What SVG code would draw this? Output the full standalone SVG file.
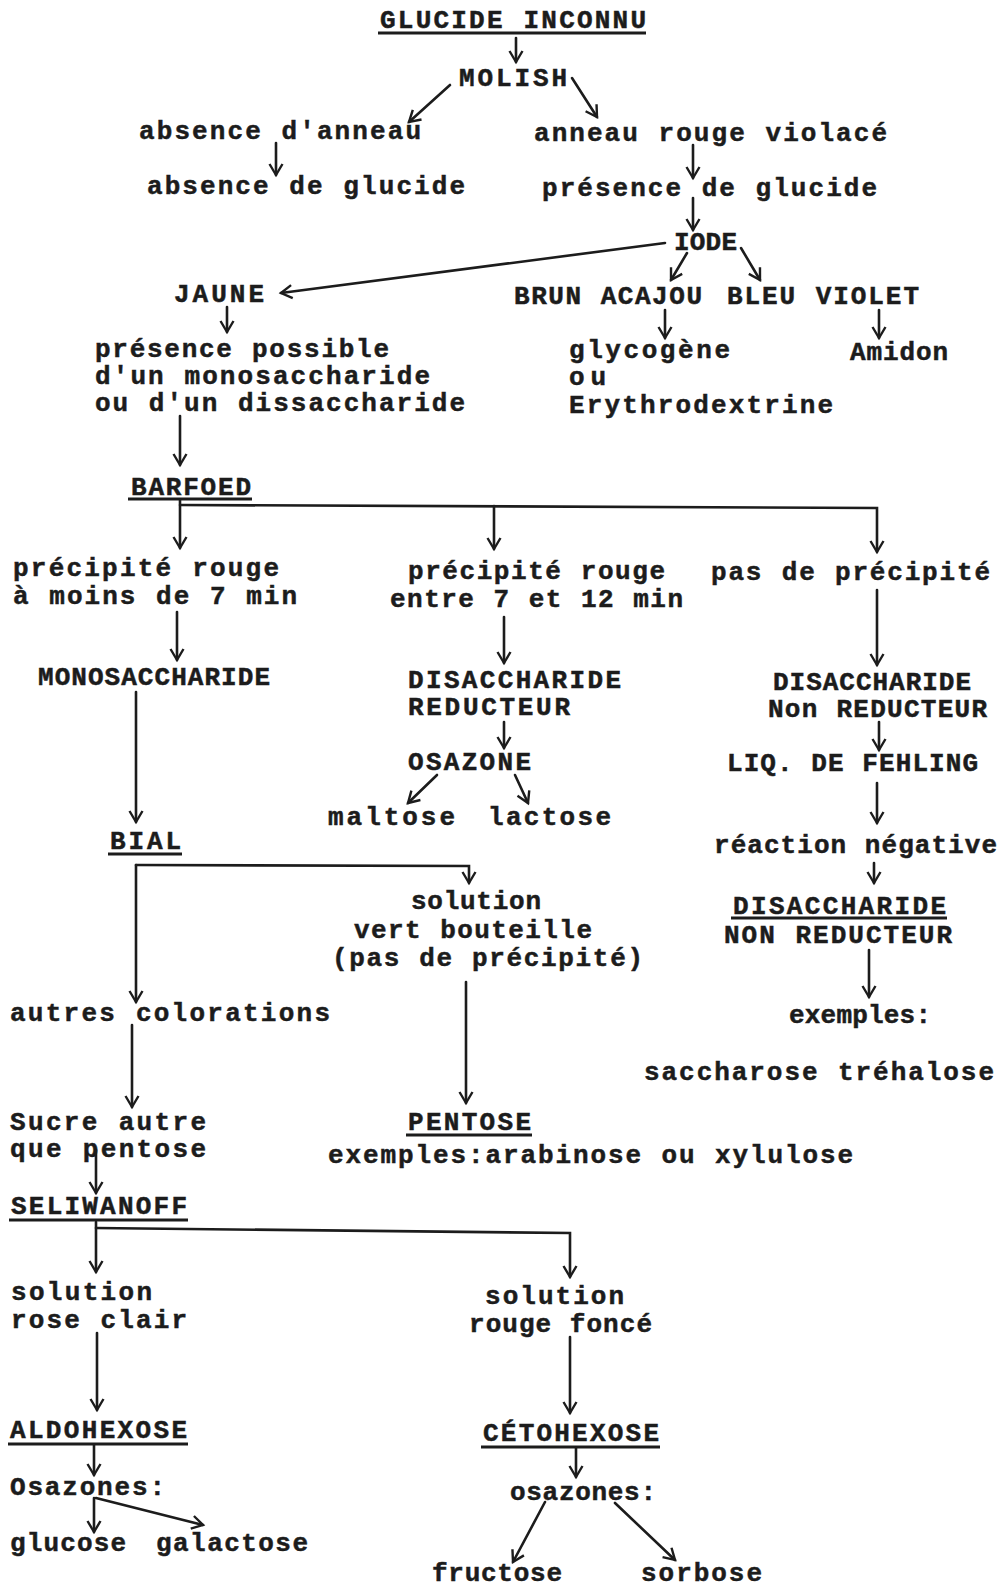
<svg xmlns="http://www.w3.org/2000/svg" width="1000" height="1587" viewBox="0 0 1000 1587">
<defs>
<style>
.t{font-family:"Liberation Mono","DejaVu Sans Mono",monospace;font-size:26px;font-weight:bold;fill:#1c1c1c;stroke:#1c1c1c;stroke-width:0.5;word-spacing:1px}
.c{fill:none;stroke:#1c1c1c;stroke-width:2.6;stroke-linecap:round}
.u{stroke:#1c1c1c;stroke-width:3}
</style>
<marker id="a" markerWidth="16" markerHeight="16" refX="13" refY="8" orient="auto" markerUnits="userSpaceOnUse" viewBox="0 0 16 16">
<path d="M2,1.5 L13,8 L2,14.5" fill="none" stroke="#1c1c1c" stroke-width="2.4"/>
</marker>
</defs>
<rect width="1000" height="1587" fill="#ffffff"/>

<g id="n-glucide"><text class="t" x="380" y="28" textLength="266" lengthAdjust="spacing">GLUCIDE INCONNU</text><line class="u" x1="378" y1="33" x2="646" y2="33"/></g>
<g id="n-molish"><text class="t" x="459" y="86" textLength="108" lengthAdjust="spacing">MOLISH</text></g>
<g id="n-absence-anneau"><text class="t" x="139" y="139" textLength="282" lengthAdjust="spacing">absence d'anneau</text></g>
<g id="n-anneau-rouge"><text class="t" x="534" y="141" textLength="353" lengthAdjust="spacing">anneau rouge violacé</text></g>
<g id="n-absence-glucide"><text class="t" x="147" y="194" textLength="318" lengthAdjust="spacing">absence de glucide</text></g>
<g id="n-presence-glucide"><text class="t" x="542" y="196" textLength="335" lengthAdjust="spacing">présence de glucide</text></g>
<g id="n-iode"><text class="t" x="674" y="250" textLength="63" lengthAdjust="spacing">IODE</text></g>
<g id="n-jaune"><text class="t" x="174" y="302" textLength="90" lengthAdjust="spacing">JAUNE</text></g>
<g id="n-brun-acajou"><text class="t" x="514" y="304" textLength="188" lengthAdjust="spacing">BRUN ACAJOU</text></g>
<g id="n-bleu-violet"><text class="t" x="727" y="304" textLength="192" lengthAdjust="spacing">BLEU VIOLET</text></g>
<g id="n-presence-possible">
<text class="t" x="95" y="357" textLength="294" lengthAdjust="spacing">présence possible</text>
<text class="t" x="95" y="384" textLength="335" lengthAdjust="spacing">d'un monosaccharide</text>
<text class="t" x="95" y="411" textLength="370" lengthAdjust="spacing">ou d'un dissaccharide</text>
</g>
<g id="n-glycogene">
<text class="t" x="569" y="358" textLength="161" lengthAdjust="spacing">glycogène</text>
<text class="t" x="569" y="385" textLength="37" lengthAdjust="spacing">ou</text>
<text class="t" x="569" y="413" textLength="264" lengthAdjust="spacing">Erythrodextrine</text>
</g>
<g id="n-amidon"><text class="t" x="850" y="360" textLength="98" lengthAdjust="spacing">Amidon</text></g>
<g id="n-barfoed"><text class="t" x="131" y="495" textLength="120" lengthAdjust="spacing">BARFOED</text><line class="u" x1="128" y1="499" x2="252" y2="499"/></g>
<g id="n-precipite-7">
<text class="t" x="13" y="576" textLength="266" lengthAdjust="spacing">précipité rouge</text>
<text class="t" x="13" y="604" textLength="284" lengthAdjust="spacing">à moins de 7 min</text>
</g>
<g id="n-precipite-12">
<text class="t" x="408" y="579" textLength="257" lengthAdjust="spacing">précipité rouge</text>
<text class="t" x="390" y="607" textLength="293" lengthAdjust="spacing">entre 7 et 12 min</text>
</g>
<g id="n-pas-precipite"><text class="t" x="711" y="580" textLength="279" lengthAdjust="spacing">pas de précipité</text></g>
<g id="n-monosaccharide"><text class="t" x="38" y="685" textLength="232" lengthAdjust="spacing">MONOSACCHARIDE</text></g>
<g id="n-disacch-red">
<text class="t" x="408" y="688" textLength="213" lengthAdjust="spacing">DISACCHARIDE</text>
<text class="t" x="408" y="715" textLength="162" lengthAdjust="spacing">REDUCTEUR</text>
</g>
<g id="n-disacch-nonred">
<text class="t" x="773" y="690" textLength="198" lengthAdjust="spacing">DISACCHARIDE</text>
<text class="t" x="768" y="717" textLength="219" lengthAdjust="spacing">Non REDUCTEUR</text>
</g>
<g id="n-osazone"><text class="t" x="408" y="770" textLength="123" lengthAdjust="spacing">OSAZONE</text></g>
<g id="n-maltose"><text class="t" x="328" y="825" textLength="127" lengthAdjust="spacing">maltose</text></g>
<g id="n-lactose"><text class="t" x="488" y="825" textLength="123" lengthAdjust="spacing">lactose</text></g>
<g id="n-fehling"><text class="t" x="727" y="771" textLength="251" lengthAdjust="spacing">LIQ. DE FEHLING</text></g>
<g id="n-bial"><text class="t" x="110" y="849" textLength="71" lengthAdjust="spacing">BIAL</text><line class="u" x1="108" y1="854" x2="182" y2="854"/></g>
<g id="n-reaction"><text class="t" x="714" y="853" textLength="283" lengthAdjust="spacing">réaction négative</text></g>
<g id="n-solution-vert">
<text class="t" x="411" y="909" textLength="130" lengthAdjust="spacing">solution</text>
<text class="t" x="354" y="938" textLength="238" lengthAdjust="spacing">vert bouteille</text>
<text class="t" x="332" y="966" textLength="311" lengthAdjust="spacing">(pas de précipité)</text>
</g>
<g id="n-disacch-nonred2">
<text class="t" x="733" y="914" textLength="213" lengthAdjust="spacing">DISACCHARIDE</text><line class="u" x1="731" y1="918" x2="947" y2="918"/>
<text class="t" x="724" y="943" textLength="228" lengthAdjust="spacing">NON REDUCTEUR</text>
</g>
<g id="n-autres"><text class="t" x="10" y="1021" textLength="320" lengthAdjust="spacing">autres colorations</text></g>
<g id="n-exemples"><text class="t" x="789" y="1023" textLength="142" lengthAdjust="spacing">exemples:</text></g>
<g id="n-saccharose"><text class="t" x="644" y="1080" textLength="350" lengthAdjust="spacing">saccharose tréhalose</text></g>
<g id="n-sucre">
<text class="t" x="10" y="1130" textLength="196" lengthAdjust="spacing">Sucre autre</text>
<text class="t" x="10" y="1157" textLength="196" lengthAdjust="spacing">que pentose</text>
</g>
<g id="n-pentose">
<text class="t" x="408" y="1130" textLength="123" lengthAdjust="spacing">PENTOSE</text><line class="u" x1="406" y1="1135" x2="532" y2="1135"/>
<text class="t" x="328" y="1163" textLength="525" lengthAdjust="spacing">exemples:arabinose ou xylulose</text>
</g>
<g id="n-seliwanoff"><text class="t" x="11" y="1214" textLength="176" lengthAdjust="spacing">SELIWANOFF</text><line class="u" x1="9" y1="1220" x2="188" y2="1220"/></g>
<g id="n-rose-clair">
<text class="t" x="11" y="1300" textLength="141" lengthAdjust="spacing">solution</text>
<text class="t" x="11" y="1328" textLength="176" lengthAdjust="spacing">rose clair</text>
</g>
<g id="n-rouge-fonce">
<text class="t" x="485" y="1304" textLength="139" lengthAdjust="spacing">solution</text>
<text class="t" x="469" y="1332" textLength="183" lengthAdjust="spacing">rouge foncé</text>
</g>
<g id="n-aldohexose"><text class="t" x="10" y="1438" textLength="177" lengthAdjust="spacing">ALDOHEXOSE</text><line class="u" x1="8" y1="1444" x2="188" y2="1444"/></g>
<g id="n-cetohexose"><text class="t" x="483" y="1441" textLength="176" lengthAdjust="spacing">CÉTOHEXOSE</text><line class="u" x1="481" y1="1447" x2="660" y2="1447"/></g>
<g id="n-osazones-aldo"><text class="t" x="10" y="1495" textLength="155" lengthAdjust="spacing">Osazones:</text></g>
<g id="n-osazones-ceto"><text class="t" x="510" y="1500" textLength="146" lengthAdjust="spacing">osazones:</text></g>
<g id="n-glucose"><text class="t" x="10" y="1551" textLength="116" lengthAdjust="spacing">glucose</text></g>
<g id="n-galactose"><text class="t" x="156" y="1551" textLength="152" lengthAdjust="spacing">galactose</text></g>
<g id="n-fructose"><text class="t" x="432" y="1581" textLength="130" lengthAdjust="spacing">fructose</text></g>
<g id="n-sorbose"><text class="t" x="641" y="1581" textLength="121" lengthAdjust="spacing">sorbose</text></g>

<g id="connectors">
<path class="c" marker-end="url(#a)" d="M516,38 L516,62"/>
<path class="c" marker-end="url(#a)" d="M450,85 L409,122"/>
<path class="c" marker-end="url(#a)" d="M572,78 L597,117"/>
<path class="c" marker-end="url(#a)" d="M276,143 L276,175"/>
<path class="c" marker-end="url(#a)" d="M693,145 L693,178"/>
<path class="c" marker-end="url(#a)" d="M693,198 L693,230"/>
<path class="c" marker-end="url(#a)" d="M665,243 L281,293"/>
<path class="c" marker-end="url(#a)" d="M687,253 L671,280"/>
<path class="c" marker-end="url(#a)" d="M741,248 L760,280"/>
<path class="c" marker-end="url(#a)" d="M227,307 L227,332"/>
<path class="c" marker-end="url(#a)" d="M665,310 L665,338"/>
<path class="c" marker-end="url(#a)" d="M879,310 L879,338"/>
<path class="c" marker-end="url(#a)" d="M180,416 L180,465"/>
<path class="c" marker-end="url(#a)" d="M180,500 L180,548"/>
<path class="c" marker-end="url(#a)" d="M180,505 L877,508 L877,552"/>
<path class="c" marker-end="url(#a)" d="M494,506 L494,549"/>
<path class="c" marker-end="url(#a)" d="M177,612 L177,660"/>
<path class="c" marker-end="url(#a)" d="M504,617 L504,663"/>
<path class="c" marker-end="url(#a)" d="M877,590 L877,665"/>
<path class="c" marker-end="url(#a)" d="M136,692 L136,822"/>
<path class="c" marker-end="url(#a)" d="M504,722 L504,748"/>
<path class="c" marker-end="url(#a)" d="M879,722 L879,750"/>
<path class="c" marker-end="url(#a)" d="M437,775 L408,803"/>
<path class="c" marker-end="url(#a)" d="M515,775 L528,803"/>
<path class="c" marker-end="url(#a)" d="M877,783 L877,823"/>
<path class="c" marker-end="url(#a)" d="M136,865 L136,1002"/>
<path class="c" marker-end="url(#a)" d="M136,865 L469,866 L469,883"/>
<path class="c" marker-end="url(#a)" d="M874,863 L874,883"/>
<path class="c" marker-end="url(#a)" d="M869,950 L869,997"/>
<path class="c" marker-end="url(#a)" d="M132,1025 L132,1107"/>
<path class="c" marker-end="url(#a)" d="M466,982 L466,1103"/>
<path class="c" marker-end="url(#a)" d="M96,1150 L96,1193"/>
<path class="c" marker-end="url(#a)" d="M96,1222 L96,1272"/>
<path class="c" marker-end="url(#a)" d="M96,1228 L570,1233 L570,1277"/>
<path class="c" marker-end="url(#a)" d="M97,1333 L97,1410"/>
<path class="c" marker-end="url(#a)" d="M570,1337 L570,1413"/>
<path class="c" marker-end="url(#a)" d="M94,1445 L94,1475"/>
<path class="c" marker-end="url(#a)" d="M576,1448 L576,1477"/>
<path class="c" marker-end="url(#a)" d="M94,1498 L94,1532"/>
<path class="c" marker-end="url(#a)" d="M96,1498 L203,1525"/>
<path class="c" marker-end="url(#a)" d="M545,1502 L513,1562"/>
<path class="c" marker-end="url(#a)" d="M615,1503 L675,1560"/>
</g>
</svg>
